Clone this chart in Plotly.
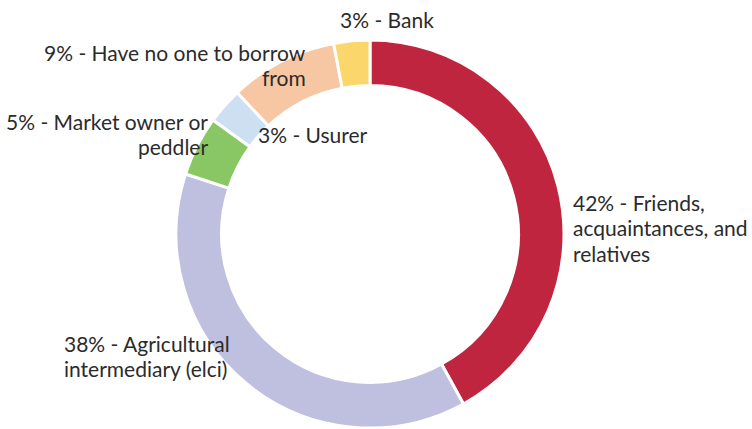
import plotly.graph_objects as go

W, H = 752, 429

# Sources of borrowing, clockwise from 12 o'clock
labels = [
    "Friends, acquaintances, and relatives",
    "Agricultural intermediary (elci)",
    "Market owner or peddler",
    "Usurer",
    "Have no one to borrow from",
    "Bank",
]
shares = [42, 38, 5, 3, 9, 3]
colors = ["#C0253F", "#BFBFDF", "#88C764", "#CDE0F1", "#F7C6A3", "#FBD66B"]

# Callout lines for each slice: (lines, x px, y px of first line centre, anchor)
callouts = [
    (["42% - Friends,", "acquaintances, and", "relatives"], 571, 202, "left"),
    (["38% - Agricultural", "intermediary (elci)"], 62, 343, "left"),
    (["5% - Market owner or", "peddler"], 210, 121, "right"),
    (["3% - Usurer"], 256, 134, "left"),
    (["9% - Have no one to borrow", "from"], 308, 52, "right"),
    (["3% - Bank"], 338, 20, "left"),
]
LINE_GAP = 25.5

cx, cy, r = 370, 234, 194

fig = go.Figure(
    go.Pie(
        labels=labels,
        values=shares,
        sort=False,
        direction="clockwise",
        rotation=0,
        hole=0.765,
        textinfo="none",
        hoverinfo="label+percent",
        marker=dict(colors=colors, line=dict(color="white", width=3)),
        domain=dict(
            x=[(cx - r) / W, (cx + r) / W],
            y=[max(0, (H - cy - r) / H), (H - cy + r) / H],
        ),
        showlegend=False,
    )
)

FONT = dict(family="Lato, 'Open Sans', sans-serif", size=21, color="#2B2B2B")
for lines, px, py, anchor in callouts:
    for i, line in enumerate(lines):
        fig.add_annotation(
            text=line,
            x=px / W,
            y=1 - (py + i * LINE_GAP) / H,
            xref="paper",
            yref="paper",
            xanchor=anchor,
            yanchor="middle",
            showarrow=False,
            font=FONT,
        )

fig.update_layout(
    width=W,
    height=H,
    margin=dict(l=0, r=0, t=0, b=0),
    paper_bgcolor="white",
    plot_bgcolor="white",
)

fig.write_html("out.html")
